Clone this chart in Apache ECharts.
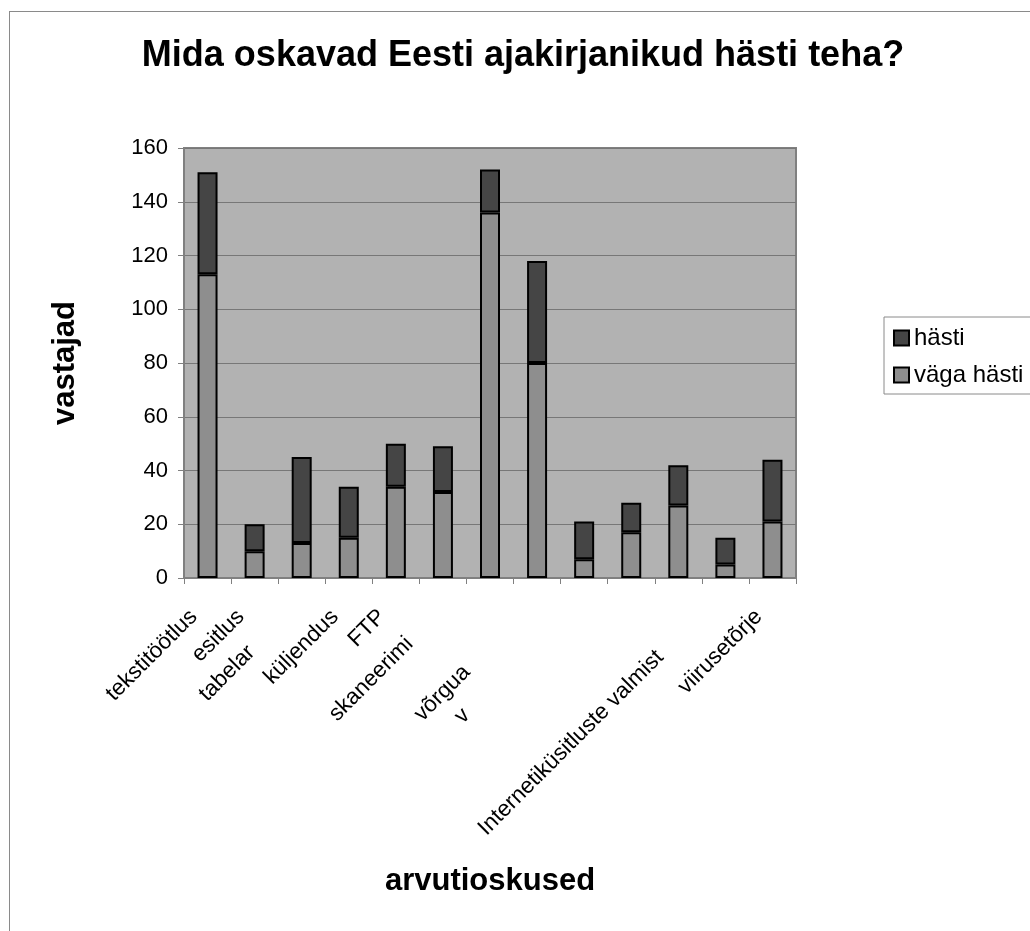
<!DOCTYPE html>
<html>
<head>
<meta charset="utf-8">
<script src="https://cdn.jsdelivr.net/npm/echarts@6/dist/echarts.min.js"></script>
<style>
  html, body { margin: 0; padding: 0; background: #ffffff; }
  #frame { position: absolute; left: 9px; top: 11px; width: 1040px; height: 940px; border: 1px solid #8a8a8a; box-sizing: border-box; }
  #chart { position: absolute; left: 0; top: 0; width: 1030px; height: 931px; }
</style>
</head>
<body>
<div id="frame"></div>
<div id="chart"></div>
<script>
// Category tick labels as they are visible in the reference (truncated ones kept truncated)
const categories = ['tekstitöötlus', 'esitlus', 'tabelar', 'küljendus', 'FTP', 'skaneerimi', 'võrgua', 'v', '', '', 'Internetiküsitluste valmist', '', 'viirusetõrje'];
// Series values
const vagaHasti = [113, 10, 13, 15, 34, 32, 136, 80, 7, 17, 27, 5, 21];
const hasti = [38, 10, 32, 19, 16, 17, 16, 38, 14, 11, 15, 10, 23];
// Y axis ticks
const yTicks = { min: 0, max: 160, interval: 20 };

const FONT = 'Liberation Sans, Arial, sans-serif';
const LABEL_SIZE = 22.5;

// label offset styles (layout only): [along, perp]
const labelShift = {
  2: [-61, -10],
  5: [-43, -4],
  6: [-56, 23],
  7: [-120, 20],
  10: [-42, 16]
};
const rich = { n: { fontSize: LABEL_SIZE, fontFamily: FONT, color: '#000', padding: [0, 10, 19, 0] } };
Object.keys(labelShift).forEach(function (k) {
  const d = labelShift[k][0], p = labelShift[k][1];
  const pad = [p > 0 ? 2 * p : 0, d < 0 ? -d : 0, p < 0 ? -2 * p : 0, 0];
  rich['s' + k] = { fontSize: LABEL_SIZE, fontFamily: FONT, color: '#000', padding: pad };
});

const chart = echarts.init(document.getElementById('chart'), null, { renderer: 'canvas' });
chart.setOption({
  animation: false,
  backgroundColor: 'transparent',
  textStyle: { fontFamily: FONT },
  title: {
    text: 'Mida oskavad Eesti ajakirjanikud hästi teha?',
    left: 518, top: 33, textAlign: 'center',
    textStyle: { fontSize: 36, fontWeight: 'bold', color: '#000', fontFamily: FONT }
  },
  legend: {
    orient: 'vertical',
    left: 884, top: 317,
    data: ['hästi', 'väga hästi'],
    icon: 'rect',
    itemWidth: 15, itemHeight: 15, itemGap: 13,
    padding: [9, 10, 7, 9],
    borderColor: '#8a8a8a', borderWidth: 1,
    backgroundColor: '#ffffff',
    textStyle: { fontSize: 24, color: '#000', fontFamily: FONT }
  },
  grid: {
    left: 184, right: 234, top: 148, bottom: 353,
    show: true, backgroundColor: '#b2b2b2', borderColor: '#808080', borderWidth: 2,
    containLabel: false
  },
  xAxis: {
    type: 'category',
    data: categories,
    name: 'arvutioskused',
    nameLocation: 'middle',
    nameGap: 288,
    nameTextStyle: { fontSize: 31, fontWeight: 'bold', color: '#000', fontFamily: FONT },
    axisLine: { lineStyle: { color: '#808080', width: 2 } },
    axisTick: { show: true, length: 6, lineStyle: { color: '#808080', width: 1 } },
    axisLabel: {
      interval: 0, rotate: 45, margin: 35, color: '#000',
      fontSize: LABEL_SIZE, fontFamily: FONT,
      formatter: function (v, i) { return v ? '{' + (rich['s' + i] ? 's' + i : 'n') + '|' + v + '}' : ''; },
      rich: rich
    }
  },
  yAxis: {
    type: 'value',
    min: yTicks.min, max: yTicks.max, interval: yTicks.interval,
    name: 'vastajad',
    nameLocation: 'middle',
    nameGap: 103,
    nameRotate: 90,
    nameTextStyle: { fontSize: 31, fontWeight: 'bold', color: '#000', fontFamily: FONT },
    axisLine: { show: true, lineStyle: { color: '#808080', width: 2 } },
    axisTick: { show: true, length: 6, lineStyle: { color: '#808080', width: 1 } },
    axisLabel: { fontSize: 22, color: '#000', margin: 16, fontFamily: FONT },
    splitLine: { lineStyle: { color: '#777777', width: 1 } }
  },
  series: [
    {
      name: 'väga hästi', type: 'bar', stack: 'total', data: vagaHasti,
      barWidth: 20,
      itemStyle: { color: '#8e8e8e', borderColor: '#000', borderWidth: 2 }
    },
    {
      name: 'hästi', type: 'bar', stack: 'total', data: hasti,
      barWidth: 20,
      itemStyle: { color: '#454545', borderColor: '#000', borderWidth: 2 }
    }
  ]
});
</script>
</body>
</html>
